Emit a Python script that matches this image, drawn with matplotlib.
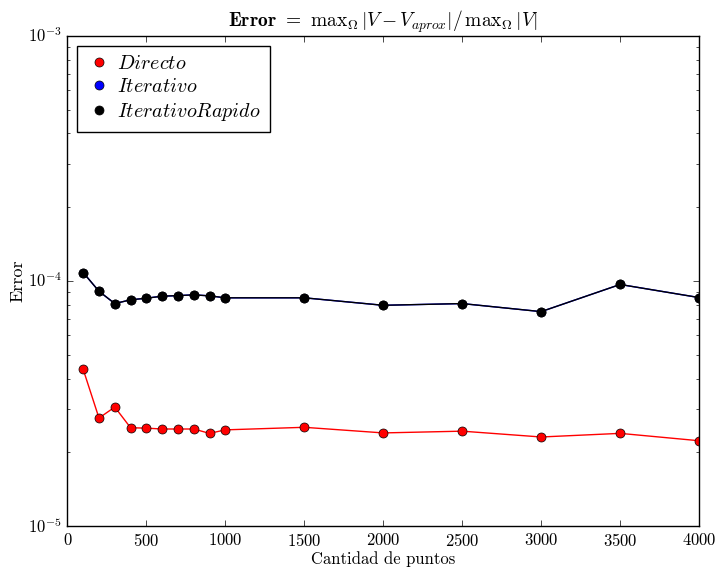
import matplotlib
matplotlib.use('agg')
import matplotlib.pyplot as plt
import numpy as np

# cantidad de puntos de la grilla
puntos = [100, 200, 300, 400, 500, 600, 700, 800, 900, 1000,
          1500, 2000, 2500, 3000, 3500, 4000]

# error relativo de cada metodo
err_directo = [4.36e-5, 2.76e-5, 3.06e-5, 2.52e-5, 2.51e-5, 2.49e-5, 2.49e-5, 2.49e-5,
               2.39e-5, 2.47e-5, 2.53e-5, 2.40e-5, 2.44e-5, 2.31e-5, 2.39e-5, 2.23e-5]
err_iterativo = [1.083e-4, 9.08e-5, 8.09e-5, 8.38e-5, 8.51e-5, 8.67e-5, 8.72e-5, 8.78e-5,
                 8.70e-5, 8.54e-5, 8.54e-5, 7.96e-5, 8.09e-5, 7.50e-5, 9.68e-5, 8.56e-5]
err_rapido = list(err_iterativo)

plt.style.use('classic')
plt.rcParams['font.family'] = 'serif'
plt.rcParams['font.serif'] = ['cmr10']
plt.rcParams['mathtext.fontset'] = 'cm'
plt.rcParams['axes.formatter.use_mathtext'] = True
plt.rcParams['axes.unicode_minus'] = False

fig = plt.figure(figsize=(7.17, 5.70), dpi=100, facecolor='white')
ax = fig.add_axes([0.094, 0.077, 0.881, 0.86])

series = [(err_directo, 'r', r'$Directo$'),
          (err_iterativo, 'b', r'$Iterativo$'),
          (err_rapido, 'k', r'$IterativoRapido$')]
for err, col, lab in series:
    ax.plot(puntos, err, '-', color=col, lw=1.0)
    ax.plot(puntos, err, 'o', color=col, mec='k', ms=6.5, label=lab)

ax.set_yscale('log')
ax.set_xlim(0, 4000)
ax.set_ylim(1e-5, 1e-3)
ax.set_xlabel('Cantidad de puntos', fontsize=12, labelpad=2)
ax.set_ylabel('Error', fontsize=13, labelpad=2)
ax.set_title(r'$\mathbf{Error}$ $\mathbf{=}$ '
             r'$\mathrm{max}_\Omega\,|V - V_{aprox}|/\,\mathrm{max}_\Omega\,|V|$',
             fontsize=14, y=1.005)
ax.tick_params(labelsize=12)

leg = ax.legend(loc='upper left', numpoints=1, fontsize=14.5, handletextpad=0.3,
                borderaxespad=0.5, borderpad=0.45, labelspacing=0.25,
                handlelength=1.2)

fig.savefig('out.png', dpi=100)
